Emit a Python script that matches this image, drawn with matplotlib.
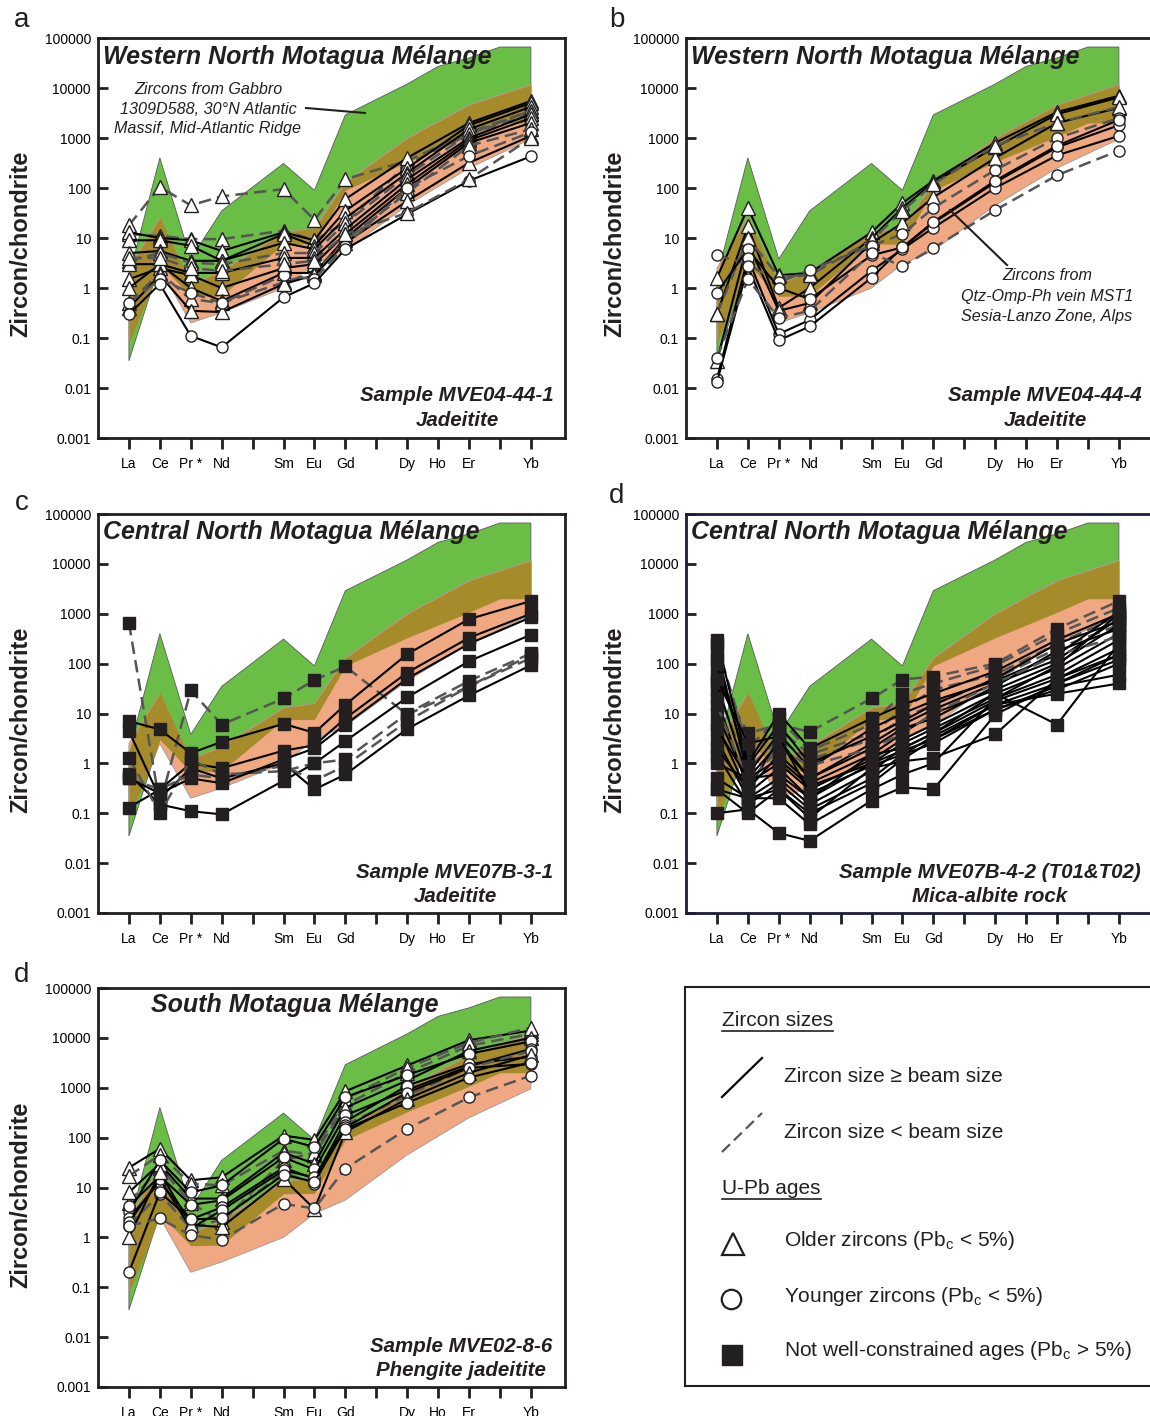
import numpy as np
import matplotlib
matplotlib.use('Agg')
import matplotlib.pyplot as plt
from matplotlib.lines import Line2D
from matplotlib.ticker import NullLocator

plt.rcParams['font.family'] = ['Liberation Sans', 'DejaVu Sans']
plt.rcParams['mathtext.fontset'] = 'custom'
plt.rcParams['mathtext.rm'] = 'Liberation Sans'

W, H = 1150, 1416

# REE order on the x axis (Pm, Tb, Tm carry no analyses)
ree = ['La', 'Ce', 'Pr', 'Nd', 'Pm', 'Sm', 'Eu', 'Gd', 'Tb', 'Dy', 'Ho', 'Er', 'Tm', 'Yb']
ree_labels = ['La', 'Ce', 'Pr *', 'Nd', '', 'Sm', 'Eu', 'Gd', '', 'Dy', 'Ho', 'Er', '', 'Yb']
measured = ['La', 'Ce', 'Pr', 'Nd', 'Sm', 'Eu', 'Gd', 'Dy', 'Er', 'Yb']

# reference fields: gabbro zircons (MAR) and Sesia-Lanzo vein zircons
gabbro_top_el = ['La', 'Ce', 'Pr', 'Nd', 'Sm', 'Eu', 'Gd', 'Dy', 'Ho', 'Er', 'Tm', 'Yb']
gabbro_top = [1.7, 400, 3.8, 35, 310, 90, 2900, 12000, 27000, 40000, 66000, 66000]
gabbro_bot_el = ['La', 'Ce', 'Pr', 'Nd', 'Sm', 'Eu', 'Gd', 'Dy', 'Er', 'Tm', 'Yb']
gabbro_bot = [0.035, 3, 0.68, 0.7, 7.5, 7.6, 90, 330, 1070, 2000, 2000]
sesia_el = ['La', 'Ce', 'Pr', 'Nd', 'Sm', 'Eu', 'Gd', 'Dy', 'Er', 'Yb']
sesia_top = [2.5, 26, 1.2, 2.2, 13, 16, 130, 1000, 4600, 11700]
sesia_bot = [0.08, 2.5, 0.2, 0.32, 1.0, 3.0, 5.6, 45, 250, 950]

# a) MVE04-44-1  (values La Ce Pr Nd Sm Eu Gd Dy Er Yb)
a_vals = [
    [18, 105, 45, 68, 95, 23, 150, 350, 1300, 3500],
    [12, 11, 9.5, 9.5, 14, 9, 20, 300, 1200, 3000],
    [13, 10, 9, 5.5, 13, 9, 60, 400, 2000, 5500],
    [9, 9, 7, 3.5, 12, 7, 35, 250, 1800, 5000],
    [5, 5.5, 3.5, 3.5, 8, 6, 25, 200, 1500, 4200],
    [3.5, 5, 3.2, 3, 5, 5, 20, 180, 1200, 3500],
    [3, 3, 2, 2, 4, 4, 15, 150, 1000, 3000],
    [1.5, 2.5, 1.8, 1.0, 2.5, 3, 12, 120, 900, 2500],
    [1, 3, 1, 0.55, 2, 2, 10, 100, 800, 2000],
    [0.5, 2, 0.6, 0.5, 1.3, 2, 9, 80, 700, 1500],
    [0.4, 1.8, 0.35, 0.33, 1.2, 1.8, 8, 55, 320, 1100],
    [0.5, 1.5, 0.8, 0.5, 1.8, 1.5, 7, 100, 440, 1300],
    [0.3, 1.2, 0.11, 0.065, 0.65, 1.25, 6, 30, 140, 430],
    [4, 4, 2.5, 2.2, 3, 3.5, 12, 32, 150, 1000],
]
a_mark = ['^', '^', '^', '^', '^', '^', '^', '^', '^', '^', '^', 'o', 'o', '^']
a_dash = [True, True, False, False, False, True, False, False, False, True, False, True, False, True]

# b) MVE04-44-4
b_vals = [
    [1.6, 40, 1.8, 2.0, 13, 50, 140, 800, 3300, 7000],
    [0.3, 17, 0.4, 1.0, 10, 40, 130, 650, 3000, 6500],
    [0.035, 8, 0.35, 0.5, 8, 20, 65, 400, 2000, 4000],
    [0.3, 10, 1.7, 1.8, 9, 35, 120, 700, 2000, 4200],
    [4.5, 3, 1.3, 2.3, 7, 12, 40, 230, 1000, 2500],
    [0.8, 6, 1.0, 0.6, 4.5, 6.5, 20, 130, 650, 1800],
    [0.015, 4, 0.12, 0.23, 2.2, 6, 16, 100, 450, 1100],
    [0.013, 2.7, 0.09, 0.17, 1.6, 6.5, 21, 140, 700, 2300],
    [0.04, 1.5, 0.25, 0.35, 5, 2.7, 6.3, 36, 180, 560],
]
b_mark = ['^', '^', '^', '^', 'o', 'o', 'o', 'o', 'o']
b_dash = [False, False, False, True, True, False, False, False, True]

# c) MVE07B-3-1
c_vals = [
    [650, 0.15, 29, 6, 20, 47, 88, 9.5, 35, 150],
    [7, 4.8, 1.6, 2.7, 6.2, 4.1, 15, 155, 780, 1800],
    [0.13, 0.3, 1.0, 0.8, 1.8, 2.3, 8, 66, 330, 1000],
    [0.6, 0.15, 0.11, 0.095, 0.45, 1.0, 2.8, 21, 112, 380],
    [4.5, 0.2, 0.8, 0.5, 1.0, 0.3, 0.6, 4.9, 23, 93],
    [0.5, 0.3, 0.6, 0.5, 0.9, 0.45, 0.9, 7, 35, 130],
    [1.3, 0.1, 1.2, 0.6, 0.7, 1.0, 1.2, 10, 45, 160],
    [0.5, 0.25, 0.5, 0.4, 1.2, 2.0, 6, 50, 250, 850],
]
c_mark = ['s'] * 8
c_dash = [True, False, False, False, False, True, True, False]

# d) MVE07B-4-2 (T01 & T02)
d_vals = [
    [60, 4, 6, 4.3, 20, 48, 55, 100, 500, 1800],
    [250, 2, 8, 1.8, 6, 25, 40, 90, 400, 1300],
    [120, 1.5, 5, 1.5, 4, 12, 30, 60, 250, 900],
    [30, 0.8, 3, 1.2, 3, 8, 15, 50, 200, 600],
    [300, 1, 10, 2, 8, 15, 25, 70, 300, 1000],
    [180, 0.6, 4, 0.8, 5, 10, 18, 45, 150, 1100],
    [40, 0.5, 2.5, 0.5, 2.5, 6, 12, 40, 120, 800],
    [20, 0.3, 1.5, 0.4, 1.5, 4, 10, 30, 100, 600],
    [10, 0.4, 1.0, 0.3, 1.2, 3, 6, 25, 80, 400],
    [6, 0.25, 0.8, 0.2, 1.0, 2.5, 5, 20, 60, 300],
    [3, 0.2, 0.5, 0.15, 0.7, 2, 4, 18, 50, 200],
    [1.5, 0.15, 0.4, 0.12, 0.5, 1.5, 3.5, 15, 40, 150],
    [0.3, 0.2, 0.3, 0.1, 0.4, 1.2, 3, 12, 30, 100],
    [0.1, 0.12, 0.04, 0.028, 0.18, 0.33, 0.3, 9.5, 40, 120],
    [0.3, 0.1, 0.3, 0.08, 0.8, 1.1, 1.3, 3.8, 50, 150],
    [1, 0.5, 0.6, 0.2, 1.5, 2, 4, 25, 6, 250],
    [2, 0.3, 3, 0.5, 2, 5, 8, 35, 180, 500],
    [100, 0.9, 6, 1.0, 3.5, 7, 15, 50, 250, 700],
    [15, 0.4, 2, 0.9, 2, 4, 10, 40, 150, 350],
    [0.5, 0.2, 0.2, 0.06, 0.3, 0.6, 1.0, 20, 90, 1000],
    [5, 0.5, 1.2, 0.35, 1.0, 1.8, 3, 15, 25, 40],
    [50, 2.5, 3.5, 0.25, 0.9, 1.5, 2.5, 12, 35, 60],
]
d_mark = ['s'] * 22
d_dash = [True, True, True, True, False, False, False, False, False, False, False,
          False, False, False, False, False, False, False, True, False, False, False]

# e) MVE02-8-6
e_vals = [
    [25, 60, 14, 16, 110, 90, 850, 2800, 9000, 14000],
    [17, 45, 12, 11, 55, 45, 450, 2000, 7000, 12000],
    [5, 25, 5, 2, 35, 50, 600, 2500, 8000, 16000],
    [8, 30, 6, 6, 50, 30, 400, 1400, 5500, 10000],
    [3.2, 35, 8, 11, 95, 65, 650, 1800, 4800, 8500],
    [4.2, 17, 4.5, 5.5, 40, 23, 280, 900, 2700, 6000],
    [2.4, 13, 2.3, 4, 25, 15, 210, 1100, 3000, 4200],
    [1.7, 7.5, 1.5, 2.3, 20, 12, 180, 700, 2500, 5500],
    [2, 15, 1.5, 3.5, 22, 16, 160, 800, 2500, 3000],
    [1.0, 20, 1.8, 1.6, 15, 3.7, 130, 600, 2000, 4500],
    [0.2, 8, 2.3, 2.4, 18, 13, 150, 500, 1600, 3200],
    [1.7, 2.4, 1.1, 0.9, 4.7, 3.8, 24, 150, 640, 1750],
]
e_mark = ['^', '^', '^', '^', 'o', 'o', 'o', 'o', 'o', '^', 'o', 'o']
e_dash = [False, True, True, False, False, False, False, True, False, False, False, True]

GREEN = '#6abd45'
OLIVE = '#a68b2b'
SALMON = '#f0a882'
DARK = '#231f20'
SPACING = 30.92  # px between neighbouring REE


def px(x, y):
    return x / W, 1 - y / H


def make_ax(fig, left, top, right, bottom, spine_color=DARK):
    ax = fig.add_axes([left / W, 1 - bottom / H, (right - left) / W, (bottom - top) / H])
    ax.set_yscale('log')
    ax.set_ylim(1e-3, 1e5)
    ax.set_xlim(-1.0, -1.0 + (right - left) / SPACING)
    ax.set_yticks([10.0 ** k for k in range(-3, 6)])
    ax.set_yticklabels(['0.001', '0.01', '0.1', '1', '10', '100', '1000', '10000', '100000'])
    ax.yaxis.set_minor_locator(NullLocator())
    ax.set_xticks(range(len(ree)))
    ax.set_xticklabels(ree_labels)
    ax.tick_params(axis='y', direction='in', length=7, width=2, labelsize=10, pad=5, color=DARK)
    ax.tick_params(axis='x', direction='out', length=8, width=2, labelsize=10, pad=6, color=DARK)
    for s in ax.spines.values():
        s.set_linewidth(2)
        s.set_color(spine_color)
    return ax


def draw_fields(ax):
    gx_t = [ree.index(e) for e in gabbro_top_el]
    gx_b = [ree.index(e) for e in gabbro_bot_el]
    sx = [ree.index(e) for e in sesia_el]
    ax.fill(gx_t + gx_b[::-1], gabbro_top + gabbro_bot[::-1], color=GREEN,
            ec='#5a5a5a', lw=0.6, zorder=1)
    ax.fill(sx + sx[::-1], sesia_top + sesia_bot[::-1], color=SALMON,
            ec='#9a9a9a', lw=0.6, zorder=1.1)
    # overlap of both fields
    xx = np.linspace(0, 13, 1301)
    lo = np.maximum(np.interp(xx, gx_b, np.log10(gabbro_bot)), np.interp(xx, sx, np.log10(sesia_bot)))
    hi = np.minimum(np.interp(xx, gx_t, np.log10(gabbro_top)), np.interp(xx, sx, np.log10(sesia_top)))
    ax.fill_between(xx, 10 ** lo, 10 ** hi, where=hi > lo, interpolate=True,
                    color=OLIVE, lw=0, zorder=1.2)


def draw_series(ax, vals, marks, dashes):
    xm = [ree.index(e) for e in measured]
    for v, m, d in zip(vals, marks, dashes):
        face = DARK if m == 's' else 'white'
        ms = {'^': 9.5, 'o': 8, 's': 8}[m]
        if d:
            ax.plot(xm, v, ls=(0, (5, 2.5)), color='#555555', lw=1.8, zorder=3,
                    marker=m, ms=ms, mfc=face, mec=DARK, mew=1.0)
        else:
            ax.plot(xm, v, ls='-', color='black', lw=1.5, zorder=3,
                    marker=m, ms=ms, mfc=face, mec=DARK, mew=1.0)


fig = plt.figure(figsize=(W / 100, H / 100), dpi=100)

panels = [
    (98, 38, 565, 438, a_vals, a_mark, a_dash, DARK),
    (686, 38, 1162, 438, b_vals, b_mark, b_dash, DARK),
    (98, 514, 565, 913, c_vals, c_mark, c_dash, DARK),
    (686, 514, 1162, 913, d_vals, d_mark, d_dash, '#1c1c3c'),
    (98, 988, 565, 1387, e_vals, e_mark, e_dash, DARK),
]
for left, top, right, bottom, vals, marks, dashes, sc in panels:
    ax = make_ax(fig, left, top, right, bottom, sc)
    draw_fields(ax)
    draw_series(ax, vals, marks, dashes)

title_kw = dict(fontsize=18, fontweight='bold', style='italic', color=DARK, va='center')
fig.text(*px(103, 57), 'Western North Motagua Mélange', ha='left', **title_kw)
fig.text(*px(691, 57), 'Western North Motagua Mélange', ha='left', **title_kw)
fig.text(*px(103, 532), 'Central North Motagua Mélange', ha='left', **title_kw)
fig.text(*px(691, 532), 'Central North Motagua Mélange', ha='left', **title_kw)
fig.text(*px(295, 1005), 'South Motagua Mélange', ha='center', **title_kw)

samp_kw = dict(fontsize=14.8, fontweight='bold', style='italic', color=DARK, ha='center', va='center')
samples = [
    (457, 396, 421, 'Sample MVE04-44-1', 'Jadeitite'),
    (1045, 396, 421, 'Sample MVE04-44-4', 'Jadeitite'),
    (455, 872, 897, 'Sample MVE07B-3-1', 'Jadeitite'),
    (990, 872, 897, 'Sample MVE07B-4-2 (T01&T02)', 'Mica-albite rock'),
    (461, 1346, 1371, 'Sample MVE02-8-6', 'Phengite jadeitite'),
]
for cx, y1, y2, s1, s2 in samples:
    fig.text(*px(cx, y1), s1, **samp_kw)
    fig.text(*px(cx, y2), s2, **samp_kw)

# field annotations
ann_kw = dict(fontsize=11.6, style='italic', color=DARK, ha='center', va='center')
for i, s in enumerate(['Zircons from Gabbro', '1309D588, 30°N Atlantic', 'Massif, Mid-Atlantic Ridge']):
    fig.text(*px(208, 89 + 20 * i), s, **ann_kw)
fig.add_artist(Line2D([306 / W, 365 / W], [1 - 108 / H, 1 - 113 / H], color=DARK, lw=1.5))
for i, s in enumerate(['Zircons from', 'Qtz-Omp-Ph vein MST1', 'Sesia-Lanzo Zone, Alps']):
    fig.text(*px(1047, 276 + 20 * i), s, **ann_kw)
fig.add_artist(Line2D([1007 / W, 950 / W], [1 - 265 / H, 1 - 210 / H], color=DARK, lw=1.5))

# panel letters and y labels
for x, y, s in [(22, 20, 'a'), (617, 20, 'b'), (22, 503, 'c'), (617, 496, 'd'), (22, 975, 'd')]:
    fig.text(*px(x, y), s, fontsize=20, ha='center', va='center', color=DARK)
for x, y in [(21, 244), (615, 244), (21, 720), (615, 720), (21, 1195)]:
    fig.text(*px(x, y), 'Zircon/chondrite', fontsize=17, fontweight='bold', rotation=90,
             ha='center', va='center', color=DARK)

# legend box
lax = fig.add_axes([685 / W, 1 - 1386 / H, 480 / W, 399 / H])
lax.set_xticks([])
lax.set_yticks([])
for s in lax.spines.values():
    s.set_linewidth(1.5)
    s.set_color(DARK)

leg_kw = dict(fontsize=15, color=DARK, va='center', ha='left')
heads = []
heads.append(fig.text(*px(722, 1020), 'Zircon sizes', **leg_kw))
heads.append(fig.text(*px(722, 1188), 'U-Pb ages', **leg_kw))
fig.add_artist(Line2D([722 / W, 762 / W], [1 - 1097 / H, 1 - 1058 / H], color='black', lw=1.6))
fig.add_artist(Line2D([722 / W, 762 / W], [1 - 1152 / H, 1 - 1113 / H], color='#555555',
                      lw=1.6, ls=(0, (5, 2.5))))
fig.text(*px(784, 1076), 'Zircon size ≥ beam size', **leg_kw)
fig.text(*px(784, 1132), 'Zircon size < beam size', **leg_kw)
fig.add_artist(Line2D([733 / W], [1 - 1244 / H], marker='^', ms=16, mfc='white', mec=DARK, mew=1.6, ls=''))
fig.add_artist(Line2D([731 / W], [1 - 1299 / H], marker='o', ms=14, mfc='white', mec=DARK, mew=1.6, ls=''))
fig.add_artist(Line2D([732 / W], [1 - 1355 / H], marker='s', ms=14, mfc=DARK, mec=DARK, mew=1.0, ls=''))
fig.text(*px(784, 1240), r'Older zircons (Pb$_\mathregular{c}$ < 5%)', **leg_kw)
fig.text(*px(784, 1296), r'Younger zircons (Pb$_\mathregular{c}$ < 5%)', **leg_kw)
fig.text(*px(784, 1351), r'Not well-constrained ages (Pb$_\mathregular{c}$ > 5%)', **leg_kw)

# underline the legend headings
renderer = fig.canvas.get_renderer()
for t in heads:
    bb = t.get_window_extent(renderer)
    fig.add_artist(Line2D([bb.x0 / W, bb.x1 / W], [(bb.y0 - 1) / H, (bb.y0 - 1) / H],
                          color=DARK, lw=1.2))

fig.savefig('out.png', dpi=100)
